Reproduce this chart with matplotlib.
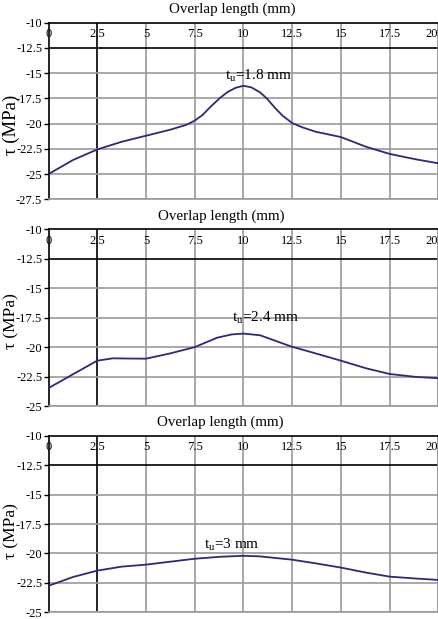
import matplotlib
matplotlib.use('Agg')
from matplotlib import pyplot as plt

plt.rcParams['font.family'] = ['Liberation Serif', 'DejaVu Serif']
plt.rcParams['mathtext.fontset'] = 'custom'
plt.rcParams['mathtext.rm'] = 'Liberation Serif'
plt.rcParams['mathtext.it'] = 'Liberation Serif'

x_ticks = [0, 2.5, 5, 7.5, 10, 12.5, 15, 17.5, 20]
x_labels = ['0', '2.5', '5', '7.5', '10', '12.5', '15', '17.5', '20']

# t_u = 1.8 mm
x1 = [0, 1.26, 2.5, 3.75, 5, 6.25, 7.1, 7.5, 7.9, 8.3, 8.83, 9.2, 9.6, 10.0, 10.4, 10.85, 11.2, 11.6, 12.0, 12.5, 13.0, 13.7, 15, 16.3, 17.5, 18.85, 20]
y1 = [-25, -23.6, -22.56, -21.8, -21.2, -20.6, -20.1, -19.7, -19.15, -18.35, -17.4, -16.85, -16.45, -16.25, -16.4, -16.9, -17.5, -18.4, -19.2, -19.94, -20.35, -20.8, -21.33, -22.3, -23.0, -23.54, -23.93]
y1_ticks = [-10, -12.5, -15, -17.5, -20, -22.5, -25, -27.5]

# t_u = 2.4 mm
x2 = [0, 1.26, 2.5, 3.3, 4.2, 5, 6.25, 7.5, 8.65, 9.4, 10, 10.85, 11.7, 12.5, 13.7, 15, 16.3, 17.5, 18.85, 20]
y2 = [-23.48, -22.3, -21.15, -20.95, -20.97, -20.98, -20.53, -20.0, -19.2, -18.92, -18.85, -18.99, -19.5, -19.97, -20.53, -21.15, -21.8, -22.28, -22.53, -22.64]
y2_ticks = [-10, -12.5, -15, -17.5, -20, -22.5, -25]

# t_u = 3 mm
x3 = [0, 1.26, 2.5, 3.75, 5, 6.25, 7.5, 8.83, 10, 10.85, 12.5, 13.7, 15, 16.3, 17.5, 18.85, 20]
y3 = [-22.75, -22.0, -21.46, -21.12, -20.95, -20.7, -20.45, -20.28, -20.2, -20.25, -20.53, -20.84, -21.2, -21.63, -21.97, -22.13, -22.25]
y3_ticks = [-10, -12.5, -15, -17.5, -20, -22.5, -25]

panels = [
	(x1, y1, y1_ticks, r'$\mathregular{t_u}$=1.8 mm', (9.08, -15.65), 0.472, 0.42, 13.5),
	(x2, y2, y2_ticks, r'$\mathregular{t_u}$=2.4 mm', (9.43, -17.87), 0.443, 0.48, 12.5),
	(x3, y3, y3_ticks, r'$\mathregular{t_u}$=3 mm', (8.0, -19.6), 0.441, 0.46, 12.5),
]
bottoms = [0.678, 0.3441, 0.0108]

fig = plt.figure(figsize=(4.39, 6.19), dpi=100)
grey = '#9a9a9a'

for (xs, ys, yt, note, pos, tx, ly, lsize), b in zip(panels, bottoms):
	ax = fig.add_axes([0.1105, b, 0.888, 0.2853])
	ax.set_xlim(0, 20)
	ax.set_ylim(yt[-1], yt[0])
	ax.set_xticks(x_ticks)
	ax.set_xticklabels(x_labels)
	ax.set_yticks(yt)
	ax.set_yticklabels([('%g' % v) for v in yt])
	for v in x_ticks[1:]:
		ax.axvline(v, color='black' if v == 2.5 else grey, lw=1.2, zorder=1)
	for v in yt[1:]:
		ax.axhline(v, color='black' if v == -12.5 else grey, lw=1.2, zorder=1)
	ax.plot(xs, ys, color='#2a2a78', lw=1.3, zorder=3)
	ax.text(pos[0], pos[1], note, fontsize=11, ha='left', va='baseline', zorder=4)
	ax.tick_params(axis='x', top=True, bottom=False, labeltop=True, labelbottom=False,
		length=0, pad=-12.5, labelsize=9)
	ax.tick_params(axis='y', direction='out', length=3.5, width=1, pad=1, labelsize=9)
	ax.get_xticklabels()[-1].set_horizontalalignment('right')
	ax.spines['top'].set_color('black')
	ax.spines['left'].set_color('black')
	ax.spines['right'].set_color(grey)
	ax.spines['bottom'].set_color(grey)
	for s in ax.spines.values():
		s.set_linewidth(1.2)
	ax.set_title('Overlap length (mm)', fontsize=10.8, x=tx, pad=7)
	ax.text(-0.095, ly, 'τ (MPa)', transform=ax.transAxes, rotation=90,
		ha='center', va='center', fontsize=lsize)

plt.savefig('out.png', dpi=100)
